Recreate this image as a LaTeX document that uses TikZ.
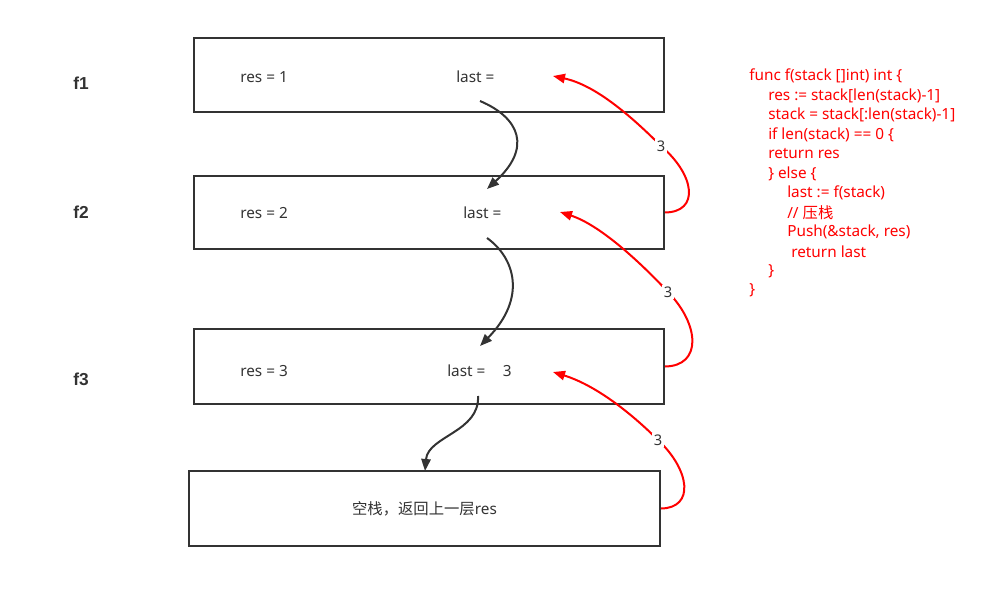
\documentclass[tikz,border=0pt]{standalone}
\usepackage{fontspec}
\setmainfont{Noto Sans}
\newfontfamily\cjk{Noto Sans CJK SC}
\newfontfamily\lvlfont{Liberation Sans}
\usepackage{tikz}
\usetikzlibrary{arrows.meta}

\definecolor{ink}{HTML}{333333}
\definecolor{codered}{HTML}{FF0000}

\begin{document}
\begin{tikzpicture}[x=0.75pt, y=-0.75pt,
    frame/.style={draw=ink, line width=1.5pt, minimum width=352.5pt, inner sep=0pt},
    val/.style={anchor=west, text=ink, font=\fontsize{11.5}{13}\selectfont, inner sep=0pt},
    level/.style={anchor=west, text=ink, font=\fontsize{13}{15}\selectfont\lvlfont\bfseries, inner sep=0pt},
    code/.style={anchor=west, text=codered, font=\fontsize{11.5}{13}\selectfont, inner sep=0pt},
    call/.style={draw=ink, line width=1.5pt, -{Triangle[length=9pt, width=7pt]}},
    back/.style={draw=codered, line width=1.5pt, -{Triangle[length=9pt, width=7pt]}},
    num/.style={fill=white, text=ink, font=\fontsize{11}{13}\selectfont, inner sep=1pt}]
    \useasboundingbox (0,0) rectangle (982,599);

    % stack frames
    \node[frame, minimum height=55.5pt] (f1box) at (429,75) {};
    \node[frame, minimum height=54.75pt] (f2box) at (429,212.5) {};
    \node[frame, minimum height=56.25pt] (f3box) at (429,366.5) {};
    \node[frame, minimum width=353.25pt, minimum height=56.25pt] (endbox) at (424.5,508.5) {};

    \node[level] (f1) at (73,83) {f1};
    \node[level] (f2) at (73,212) {f2};
    \node[level] (f3) at (73,379) {f3};

    \node[val] (res1) at (240,77) {res = 1};
    \node[val] (last1) at (456,77) {last =};
    \node[val] (res2) at (240,213) {res = 2};
    \node[val] (last2) at (463,213) {last =};
    \node[val] (res3) at (240,371) {res = 3};
    \node[val] (last3) at (447,371) {last =\hspace{13pt}3};
    \node[val, anchor=center] (empty) at (424.5,509) {{\cjk 空栈，返回上一层}res};

    % calls going down
    \coordinate (c1s) at (480,101);
    \coordinate (c1e) at (487,189);
    \coordinate (c2s) at (487,238);
    \coordinate (c2e) at (480,346);
    \coordinate (c3s) at (478,396);
    \coordinate (c3e) at (425,471);
    \draw[call] (c1s) .. controls (520,118) and (532,148) .. (c1e);
    \draw[call] (c2s) .. controls (515,258) and (527,298) .. (c2e);
    \draw[call] (c3s) .. controls (480,432) and (428,436) .. (c3e);

    % returned values
    \coordinate (r1e) at (553,76);
    \coordinate (r2e) at (560,212);
    \coordinate (r3e) at (553,372);
    \draw[back] (f2box.east) .. controls (700,212) and (695,175) .. (661,146)
        .. controls (630,115) and (595,85) .. (r1e);
    \draw[back] (f3box.east) .. controls (702,366) and (700,325) .. (668,292)
        .. controls (640,262) and (600,225) .. (r2e);
    \draw[back] (endbox.east) .. controls (695,508) and (690,470) .. (658,440)
        .. controls (630,412) and (595,385) .. (r3e);
    \node[num] (n1) at (661,146) {3};
    \node[num] (n2) at (668,292) {3};
    \node[num] (n3) at (658,440) {3};

    % the function
    \node[code] (l1) at (749,76) {func f(stack []int) int \{};
    \node[code] (l2) at (768,95.5) {res := stack[len(stack)-1]};
    \node[code] (l3) at (768,115) {stack = stack[:len(stack)-1]};
    \node[code] (l4) at (768,134.5) {if len(stack) == 0 \{};
    \node[code] (l5) at (768,154) {return res};
    \node[code] (l6) at (768,173.5) {\} else \{};
    \node[code] (l7) at (787,193) {last := f(stack)};
    \node[code] (l8) at (787,212.5) {// {\cjk 压栈}};
    \node[code] (l9) at (787,232) {Push(\&stack, res)};
    \node[code] (l10) at (791,251.5) {return last};
    \node[code] (l11) at (768,271) {\}};
    \node[code] (l12) at (749,290.5) {\}};
\end{tikzpicture}
\end{document}
